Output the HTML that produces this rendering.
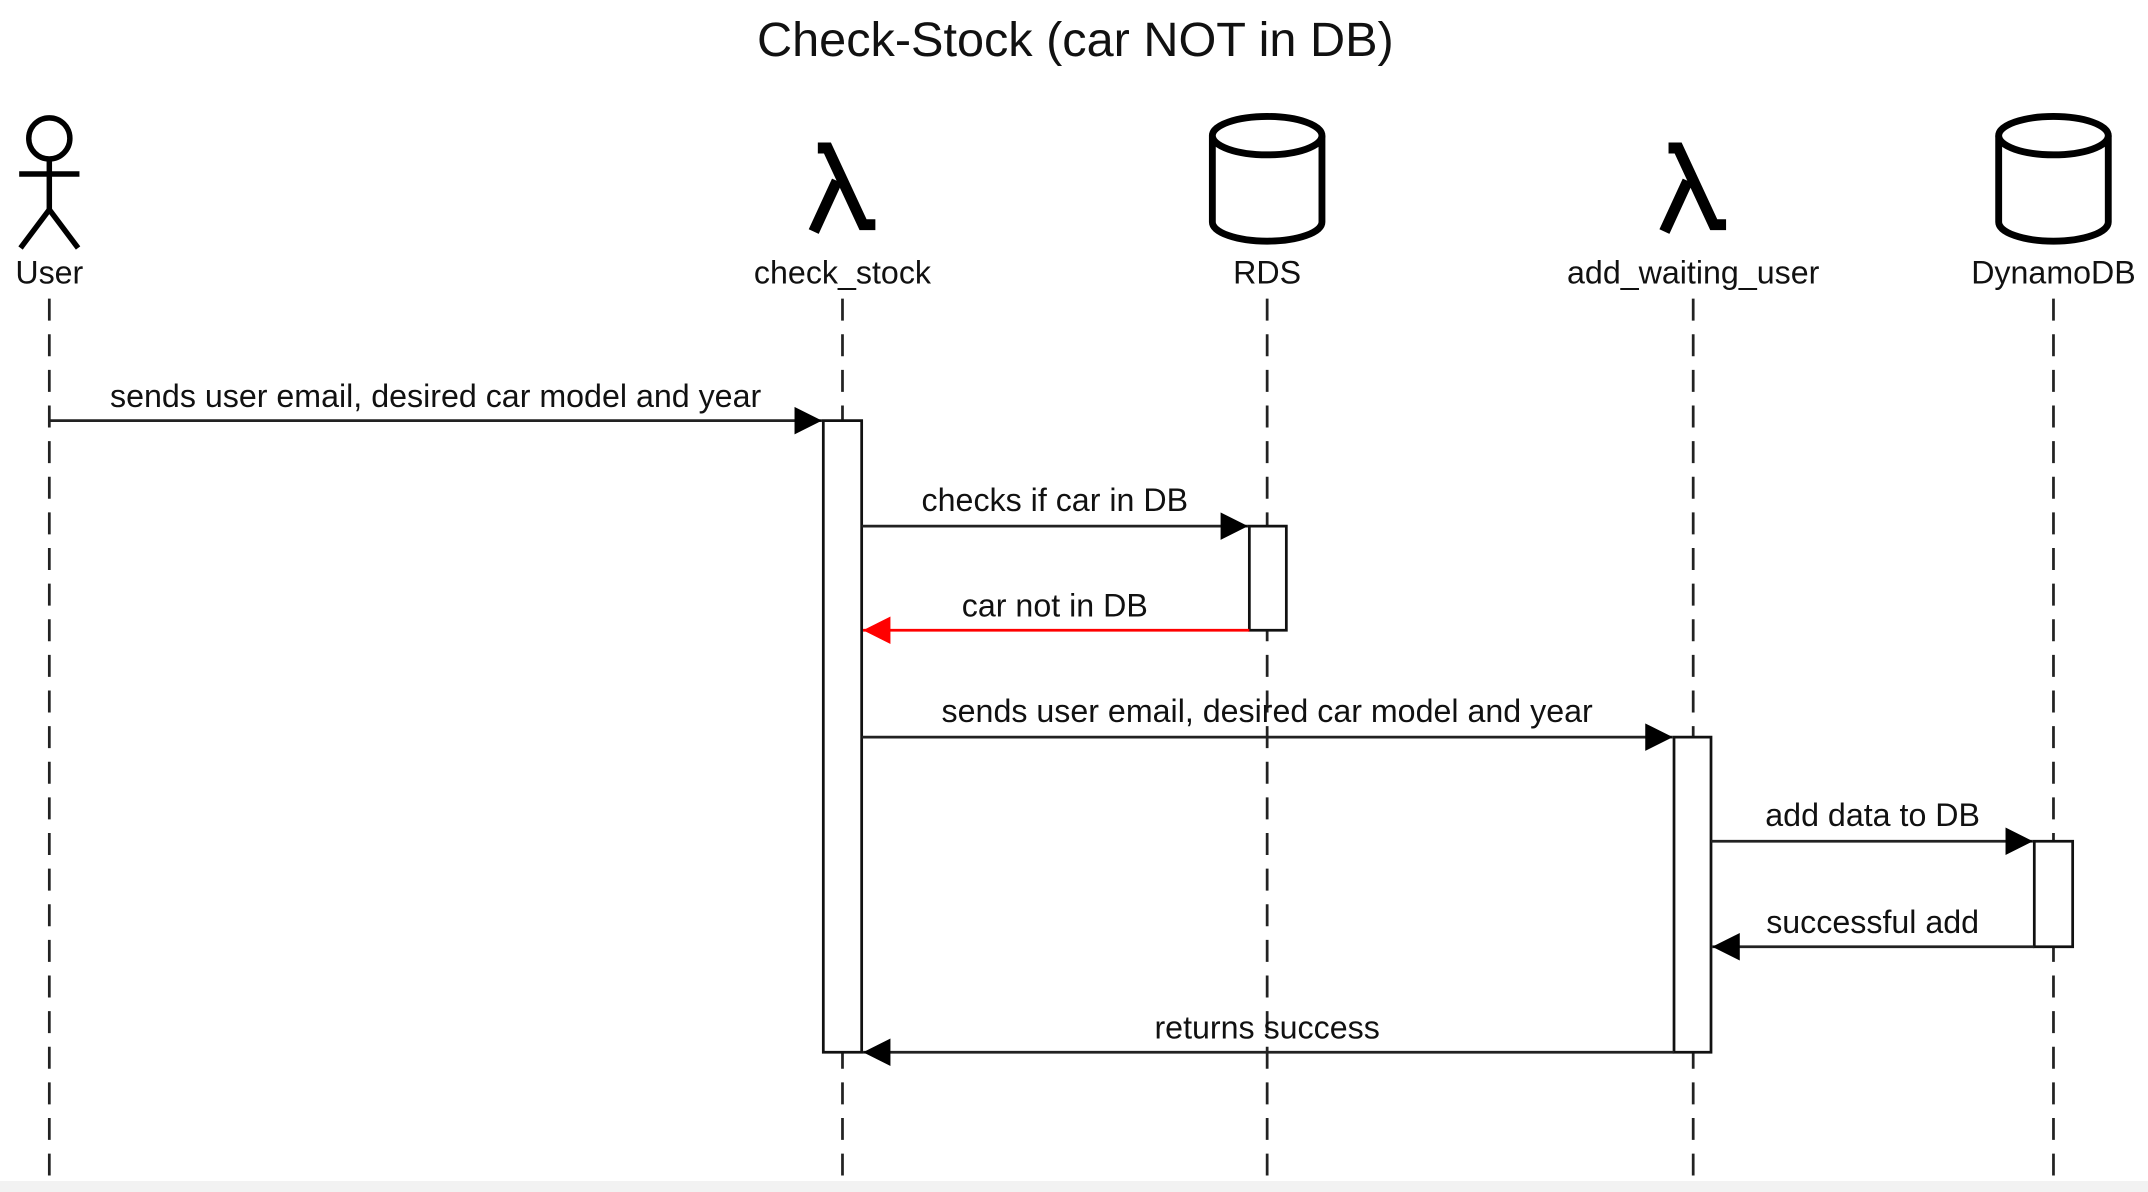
<!DOCTYPE html>
<html><head><meta charset="utf-8"><style>
html,body{margin:0;padding:0;background:#fff;}
svg{display:block;}
text{font-family:"Liberation Sans",Arial,sans-serif;fill:#111;}
</style></head><body>
<svg width="2148" height="1192" viewBox="0 0 1568 870" preserveAspectRatio="none" xmlns="http://www.w3.org/2000/svg">
<defs>
<marker id="a" markerWidth="20" markerHeight="20" refX="20" refY="10" orient="auto" markerUnits="userSpaceOnUse" viewBox="0 0 20 20"><path d="M0,0 L20,10 L0,20 Z" fill="#000"/></marker>
<marker id="r" markerWidth="20" markerHeight="20" refX="20" refY="10" orient="auto" markerUnits="userSpaceOnUse" viewBox="0 0 20 20"><path d="M0,0 L20,10 L0,20 Z" fill="#f00"/></marker>
</defs>
<rect x="0" y="862" width="1568" height="8" fill="#f2f2f2"/>
<text x="785" y="41" font-size="35.5" text-anchor="middle">Check-Stock (car NOT in DB)</text>

<g stroke="#222" stroke-width="2" stroke-dasharray="16,10">
<line x1="36" y1="218" x2="36" y2="862"/>
<line x1="615" y1="218" x2="615" y2="862"/>
<line x1="925" y1="218" x2="925" y2="862"/>
<line x1="1236" y1="218" x2="1236" y2="862"/>
<line x1="1499" y1="218" x2="1499" y2="862"/>
</g>

<g stroke="#000" stroke-width="4" fill="none">
<circle cx="36" cy="101" r="15"/>
<line x1="36" y1="116" x2="36" y2="153"/>
<line x1="14" y1="127" x2="58" y2="127"/>
<line x1="36" y1="153" x2="15" y2="181"/>
<line x1="36" y1="153" x2="57" y2="181"/>
</g>
<g stroke="#000" stroke-width="8" fill="none">
<path d="M597,108 L604,108 L630,164 L639,164"/>
<path d="M611,132 L594,169"/>
<path d="M1218,108 L1225,108 L1251,164 L1260,164"/>
<path d="M1232,132 L1215,169"/>
</g>
<g stroke="#000" stroke-width="5" fill="#fff">
<path d="M885,99 L885,162 A40,14 0 0 0 965,162 L965,99"/>
<ellipse cx="925" cy="99" rx="40" ry="14"/>
<path d="M1459,99 L1459,162 A40,14 0 0 0 1539,162 L1539,99"/>
<ellipse cx="1499" cy="99" rx="40" ry="14"/>
</g>

<g font-size="23.5" text-anchor="middle">
<text x="36" y="207">User</text>
<text x="615" y="207">check_stock</text>
<text x="925" y="207">RDS</text>
<text x="1236" y="207">add_waiting_user</text>
<text x="1499" y="207">DynamoDB</text>
</g>

<g fill="#fff" stroke="#111" stroke-width="2">
<rect x="601" y="307" width="28" height="461"/>
<rect x="912" y="384" width="27" height="76"/>
<rect x="1222" y="538" width="27" height="230"/>
<rect x="1485" y="614" width="28" height="77"/>
</g>

<g stroke="#222" stroke-width="2" fill="none">
<line x1="36" y1="307" x2="600" y2="307" marker-end="url(#a)"/>
<line x1="629" y1="384" x2="911" y2="384" marker-end="url(#a)"/>
<line x1="912" y1="460" x2="630" y2="460" stroke="#f00" marker-end="url(#r)"/>
<line x1="629" y1="538" x2="1221" y2="538" marker-end="url(#a)"/>
<line x1="1249" y1="614" x2="1484" y2="614" marker-end="url(#a)"/>
<line x1="1485" y1="691" x2="1250" y2="691" marker-end="url(#a)"/>
<line x1="1222" y1="768" x2="630" y2="768" marker-end="url(#a)"/>
</g>
<g font-size="23.5" text-anchor="middle">
<text x="318" y="297">sends user email, desired car model and year</text>
<text x="770" y="373">checks if car in DB</text>
<text x="770" y="450">car not in DB</text>
<text x="925" y="527">sends user email, desired car model and year</text>
<text x="1367" y="603">add data to DB</text>
<text x="1367" y="681">successful add</text>
<text x="925" y="758">returns success</text>
</g>
</svg>
</body></html>
